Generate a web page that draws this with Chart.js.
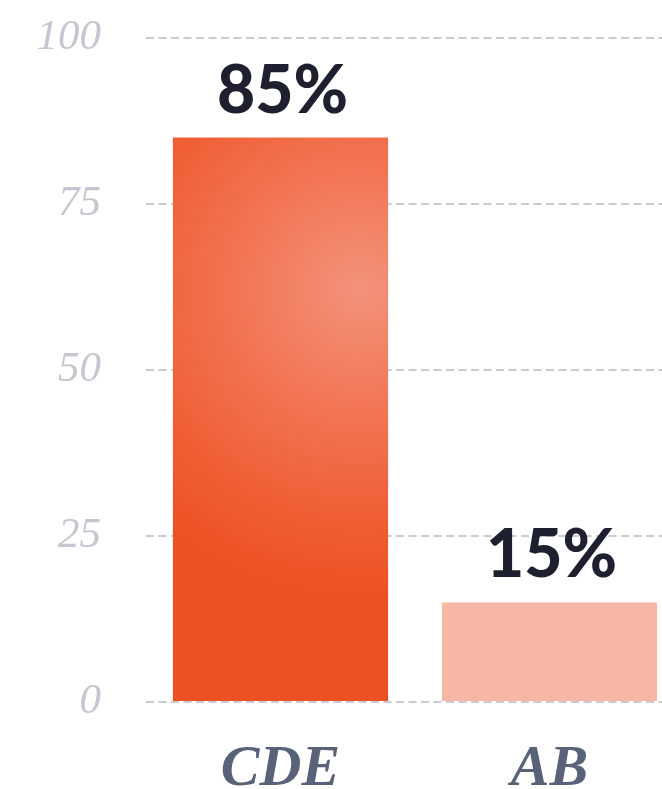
<!DOCTYPE html>
<html>
<head>
<meta charset="utf-8">
<title>CDE vs AB</title>
<script src="https://cdn.jsdelivr.net/npm/chart.js@4/dist/chart.umd.min.js"></script>
<style>
html,body{margin:0;padding:0;background:#fff;overflow:hidden;}
#wrap{position:relative;width:700px;height:789px;}
</style>
</head>
<body>
<div id="wrap"><canvas id="shareChart"></canvas></div>
<script>
/* ---------- data ---------- */
const categories = ["CDE", "AB"];
const shares = [85, 15];
const yTicks = [0, 25, 50, 75, 100];

/* ---------- colours ---------- */
const gridColor = "#c8cad4";
const tickColor = "#c4c6d0";
const catColor = "#596278";
const labelColor = "#1e2030";

// warm painted look for the big bar: soft light patch upper right, deeper edges
function paintFill(ctx){
  const chart = ctx.chart;
  const area = chart.chartArea;
  if(!area) return "#ee5528";
  if(ctx.dataIndex === 1) return "#f6b8a5";
  const g = chart.ctx.createRadialGradient(360, 290, 5, 360, 290, 310);
  g.addColorStop(0, "#f3917a");
  g.addColorStop(0.4, "#f27452");
  g.addColorStop(0.75, "#ef5d33");
  g.addColorStop(1, "#ec5124");
  return g;
}

/* ---------- value labels above bars ---------- */
const valueLabels = {
  id: "valueLabels",
  afterDatasetsDraw(chart){
    const c = chart.ctx;
    const meta = chart.getDatasetMeta(0);
    c.save();
    c.font = "900 66px Lato";
    c.fillStyle = labelColor;
    c.textAlign = "center";
    c.textBaseline = "alphabetic";
    meta.data.forEach((bar, i) => {
      c.fillText(shares[i] + "%", bar.x + 2, bar.y - 25);
    });
    c.restore();
  }
};

new Chart(document.getElementById("shareChart"), {
  type: "bar",
  data: {
    labels: categories,
    datasets: [{
      data: shares,
      backgroundColor: paintFill,
      borderWidth: 0,
      barPercentage: 0.8,
      categoryPercentage: 1
    }]
  },
  options: {
    responsive: true,
    maintainAspectRatio: false,
    animation: false,
    layout: { padding: { top: 38, right: 16, bottom: 0, left: 0 } },
    plugins: { legend: { display: false }, tooltip: { enabled: false } },
    scales: {
      x: {
        grid: { display: false },
        border: { display: false },
        ticks: {
          color: catColor,
          padding: 25,
          font: { family: "Liberation Serif", size: 58, style: "italic", weight: "bold" }
        },
        afterFit(scale){ scale.height = 87; }
      },
      y: {
        min: 0,
        max: 100,
        afterBuildTicks(scale){ scale.ticks = yTicks.map(v => ({ value: v })); },
        grid: {
          color: gridColor,
          lineWidth: 2,
          drawTicks: false
        },
        border: { display: false, dash: [8, 4.5] },
        ticks: {
          color: tickColor,
          padding: 45,
          font: { family: "Liberation Serif", size: 43, style: "italic" }
        },
        afterFit(scale){
          scale.width = 146;
          // the wide tick padding should not push the plot down
          scale.paddingTop = 0;
          scale.paddingBottom = 0;
        }
      }
    }
  },
  plugins: [valueLabels]
});
</script>
</body>
</html>
